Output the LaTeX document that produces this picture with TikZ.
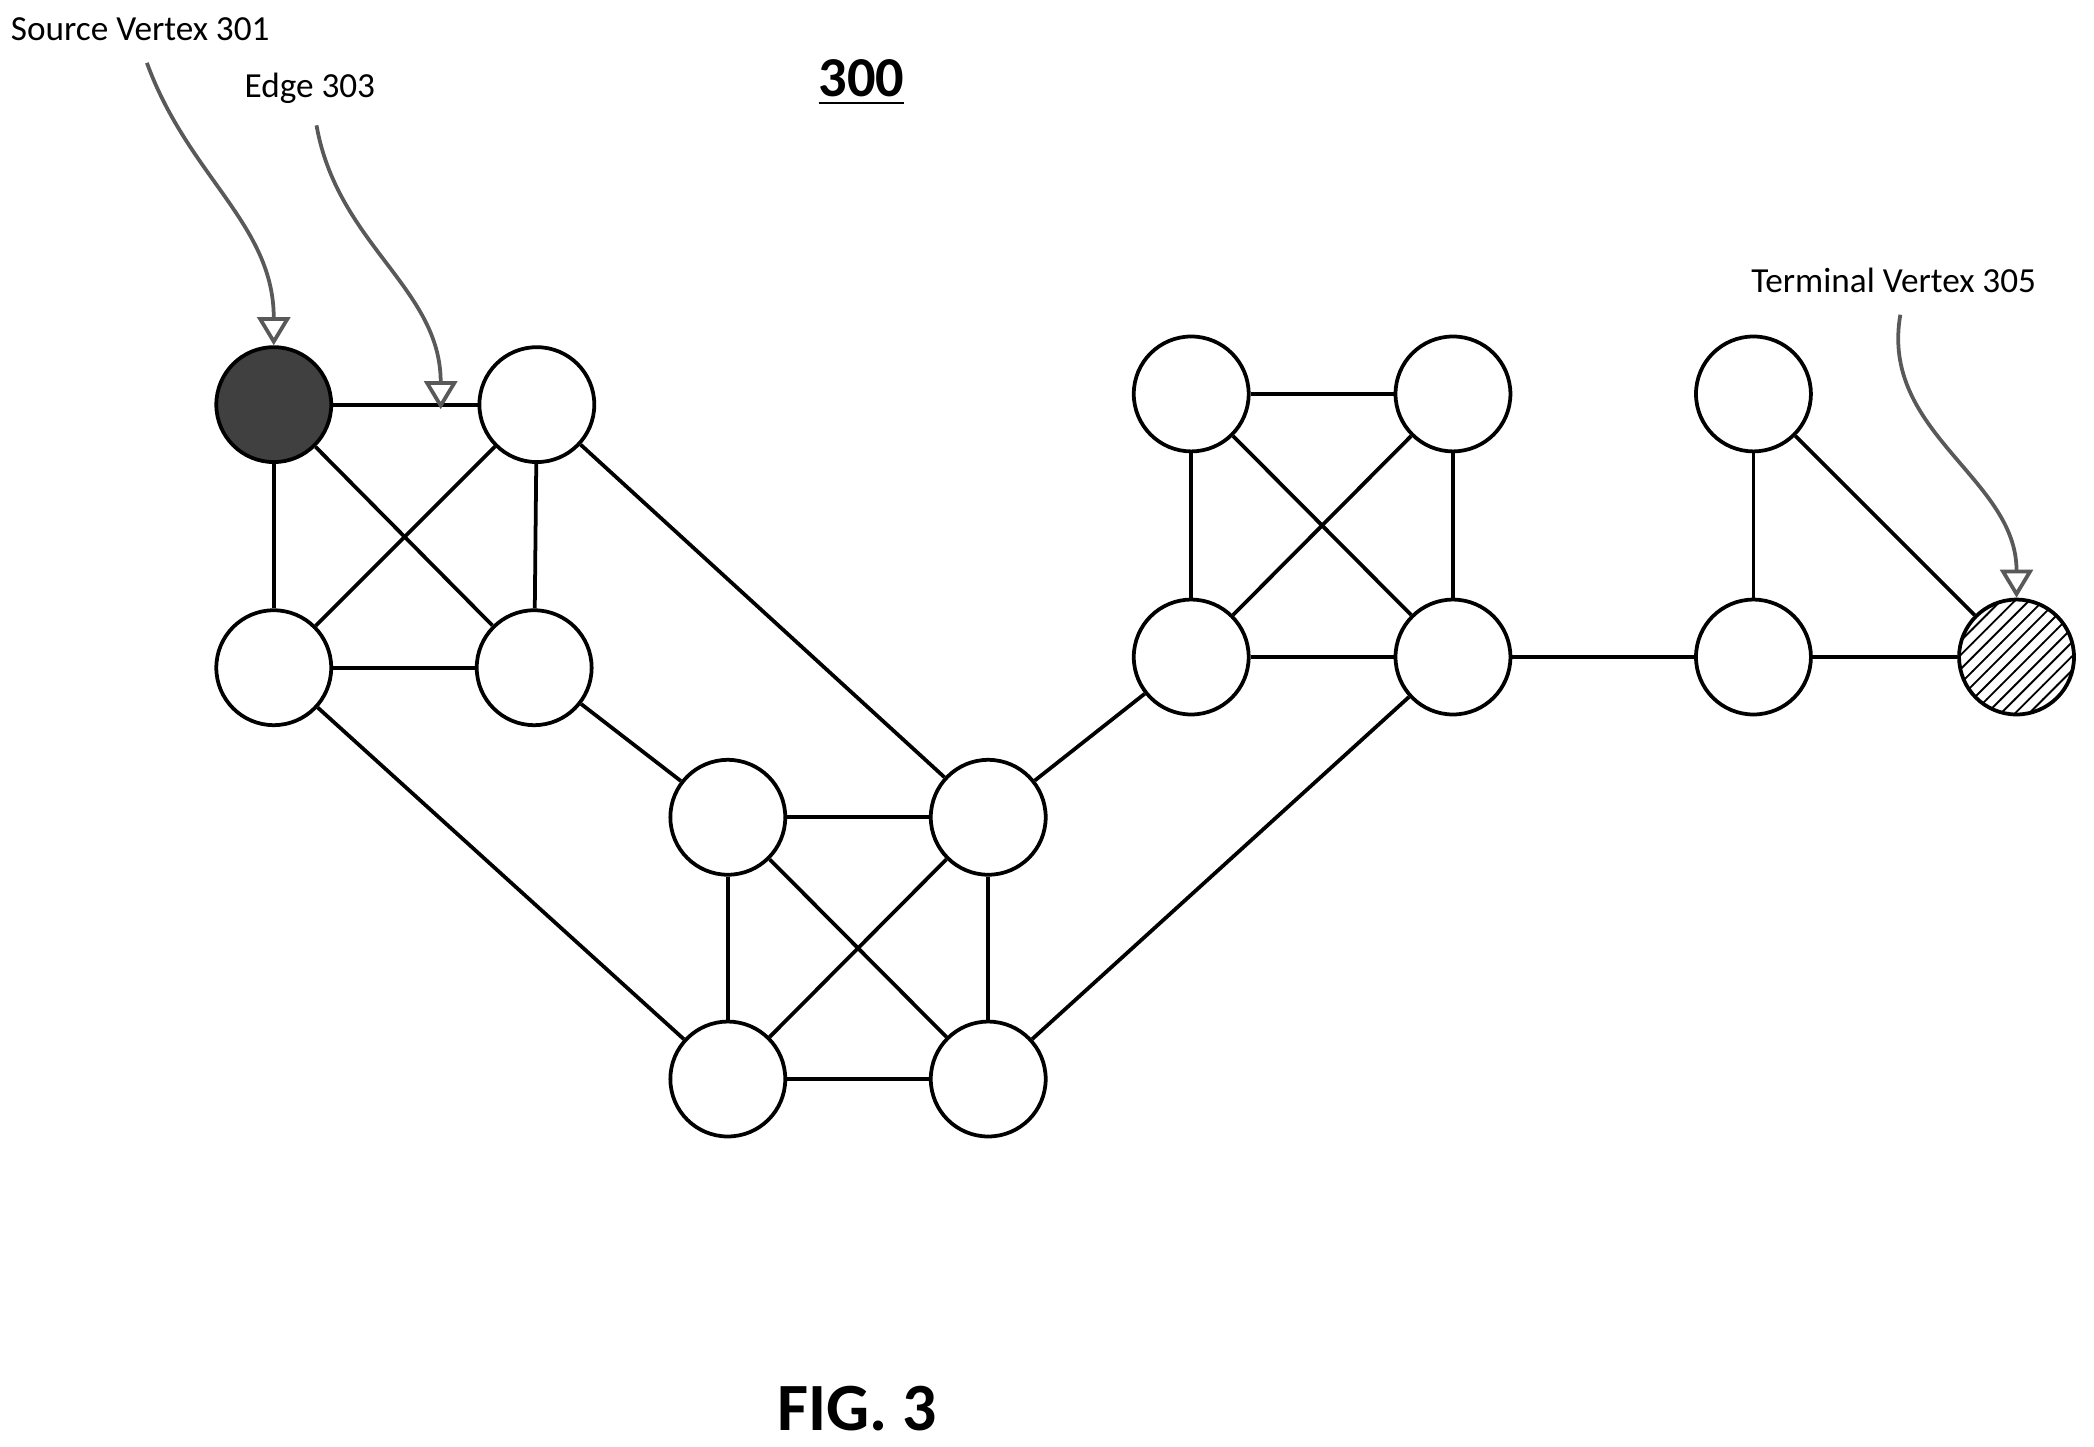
\documentclass[tikz,border=0pt]{standalone}
\usepackage{fontspec}
\setmainfont{Carlito}
\usetikzlibrary{arrows.meta,patterns,positioning}
\tikzset{>=Triangle}
\tikzset{vtx/.style={circle,draw,thick,minimum size=0.86cm,inner sep=0pt,fill=white},
  edge/.style={thick},
  lbl/.style={font=\fontsize{7.5}{9}\selectfont},
  callout/.style={thick,gray!70!black,-{Triangle[open,length=6pt,width=7pt]}}}
\begin{document}
\begin{tikzpicture}[x=0.01cm,y=-0.01cm]
    \useasboundingbox (0,0) rectangle (1568,1083);
    % vertices
    \node [vtx,fill=black!75] (s) at (205,303) {};
    \node [vtx] (a) at (402,303) {};
    \node [vtx] (b) at (205,500) {};
    \node [vtx] (c) at (400,500) {};
    \node [vtx] (d) at (545,612) {};
    \node [vtx] (e) at (740,612) {};
    \node [vtx] (f) at (545,808) {};
    \node [vtx] (g) at (740,808) {};
    \node [vtx] (h) at (892,295) {};
    \node [vtx] (i) at (1088,295) {};
    \node [vtx] (j) at (892,492) {};
    \node [vtx] (k) at (1088,492) {};
    \node [vtx] (l) at (1313,295) {};
    \node [vtx] (m) at (1313,492) {};
    \node [vtx,pattern=north east lines] (t) at (1510,492) {};

    % edges
    \foreach \u/\v in {s/a,s/b,s/c,a/b,a/c,b/c,a/e,c/d,b/f,d/e,d/f,d/g,e/f,e/g,f/g,e/j,g/k,
                       h/i,h/j,h/k,i/j,i/k,j/k,k/m,l/m,l/t,m/t}
      \draw [edge] (\u) -- (\v);

    % labels
    \node [lbl] (srclbl) at (105,22) {Source Vertex 301};
    \node [lbl] (edgelbl) at (232,66) {Edge 303};
    \node [lbl] (termlbl) at (1418,210) {Terminal Vertex 305};
    \node [font=\bfseries\large] (title) at (645,62) {\underline{300}};
    \node [font=\bfseries\Large] (fig) at (642,1055) {FIG. 3};
    \coordinate (edgept) at (330,303);

    \draw [callout] (srclbl.south) ++(5,4) to[out=-70,in=90] (s.north);
    \draw [callout] (edgelbl.south) ++(5,4) to[out=-80,in=90] ([yshift=-1pt]edgept);
    \draw [callout] (termlbl.south) ++(5,4) to[out=-100,in=90] (t.north);
\end{tikzpicture}
\end{document}
